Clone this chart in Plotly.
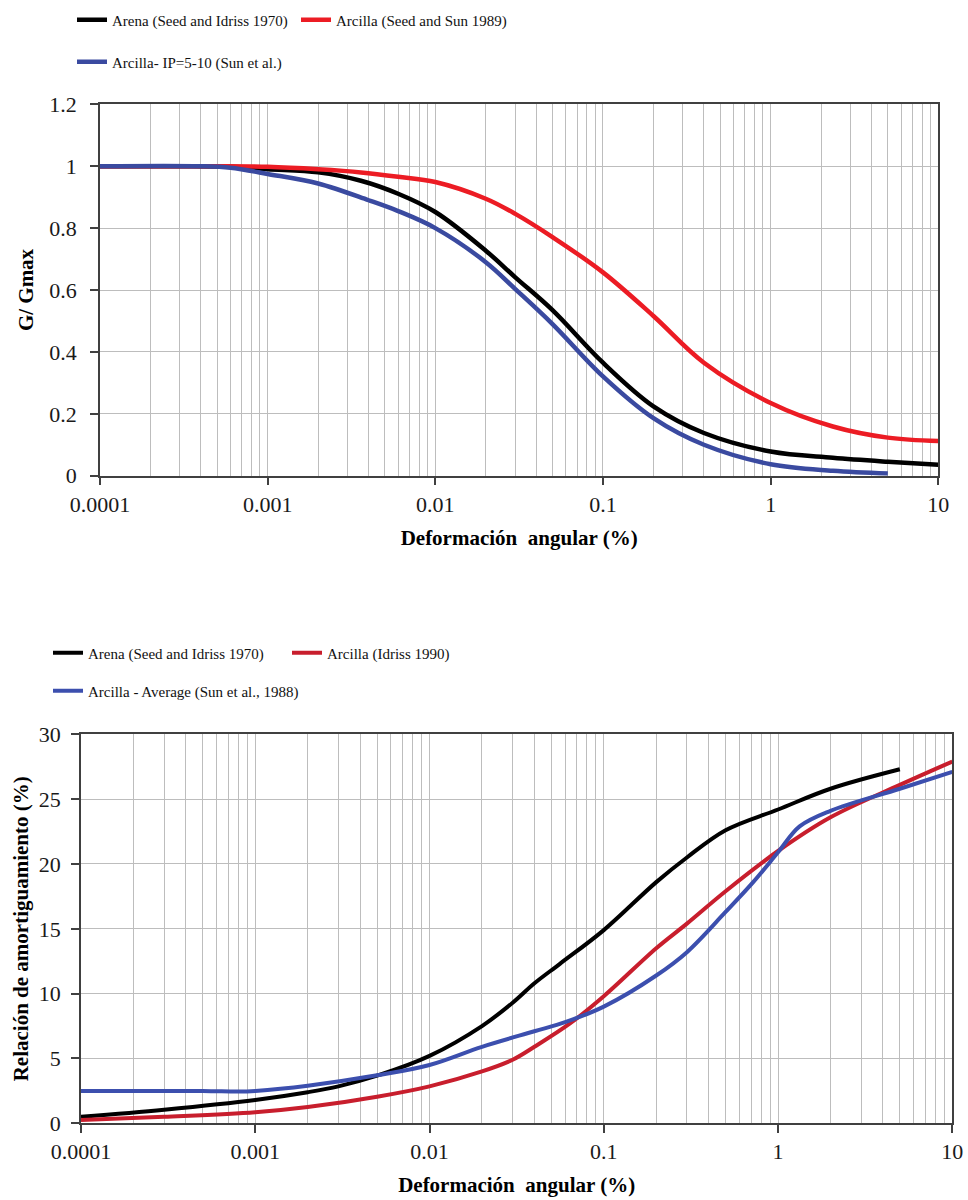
import plotly.graph_objects as go

# ---------------- Top chart: G/Gmax ----------------
strain_arena_g = [0.0001, 0.0003, 0.0006, 0.001, 0.002, 0.0036, 0.006, 0.01, 0.02, 0.03, 0.05, 0.1, 0.2, 0.4, 1, 2.35, 5, 10]
ggmax_arena = [1.0, 1.0, 0.998, 0.99, 0.98, 0.953, 0.911, 0.852, 0.727, 0.641, 0.535, 0.365, 0.224, 0.138, 0.078, 0.058, 0.045, 0.035]

strain_clay_ss = [0.0001, 0.0005, 0.001, 0.002, 0.0036, 0.006, 0.01, 0.02, 0.03, 0.05, 0.1, 0.2, 0.4, 1, 2.35, 5, 10]
ggmax_clay_ss = [1.0, 1.0, 0.998, 0.99, 0.98, 0.966, 0.949, 0.895, 0.846, 0.771, 0.657, 0.516, 0.365, 0.235, 0.159, 0.123, 0.112]

strain_clay_ip = [0.0001, 0.0004, 0.0006, 0.001, 0.002, 0.004, 0.006, 0.01, 0.02, 0.03, 0.05, 0.1, 0.2, 0.4, 1, 2.35, 5]
ggmax_clay_ip = [1.0, 1.0, 0.995, 0.975, 0.944, 0.89, 0.855, 0.80, 0.69, 0.603, 0.49, 0.321, 0.186, 0.10, 0.037, 0.016, 0.007]

# ---------------- Bottom chart: damping ratio (%) ----------------
strain_arena_d = [0.0001, 0.0003, 0.001, 0.002, 0.003, 0.005, 0.01, 0.02, 0.03, 0.04, 0.056, 0.1, 0.2, 0.3, 0.5, 1, 2, 5]
damp_arena = [0.5, 1.05, 1.8, 2.4, 2.85, 3.67, 5.2, 7.5, 9.3, 10.8, 12.3, 14.9, 18.6, 20.5, 22.6, 24.2, 25.8, 27.3]

strain_clay_id = [0.0001, 0.0003, 0.001, 0.002, 0.005, 0.01, 0.02, 0.03, 0.04, 0.064, 0.1, 0.2, 0.3, 0.5, 1, 2, 5, 10]
damp_clay_id = [0.25, 0.5, 0.85, 1.25, 2.05, 2.85, 4.0, 4.9, 5.9, 7.7, 9.8, 13.5, 15.4, 17.9, 21.0, 23.6, 26.1, 27.9]

strain_clay_avg = [0.0001, 0.0005, 0.0008, 0.001, 0.002, 0.005, 0.01, 0.02, 0.04, 0.06, 0.1, 0.2, 0.3, 0.5, 0.72, 1, 1.33, 2, 5, 10]
damp_clay_avg = [2.5, 2.5, 2.45, 2.5, 2.9, 3.7, 4.5, 5.9, 7.1, 7.8, 9.0, 11.4, 13.2, 16.3, 18.6, 20.9, 22.9, 24.1, 25.8, 27.1]

# ---------------- Labels ----------------
x_tickvals = [0.0001, 0.001, 0.01, 0.1, 1, 10]
x_ticktext = ["0.0001", "0.001", "0.01", "0.1", "1", "10"]
x_title = "<b>Deformación  angular (%)</b>"
y_title_top = "<b>G/ Gmax</b>"
y_title_bottom = "<b>Relación de amortiguamiento (%)</b>"

FONT = "Times New Roman, Liberation Serif, serif"
AXIS = "#404040"
GRID = "#bdbdbd"

# body margin is removed in the page, so the figure fills the window
W, H = 968, 1200


def px(x):
    return x / W


def py(y):
    return 1 - y / H


fig = go.Figure()


def add(x, y, name, color, xa, ya, legend, width=4.5, lw=None):
    fig.add_trace(go.Scatter(
        x=x, y=y, name=name, mode="lines", xaxis=xa, yaxis=ya, legend=legend,
        legendwidth=lw,
        line=dict(color=color, width=width, shape="spline", smoothing=1.0),
        hoverinfo="skip"))


add(strain_arena_g, ggmax_arena, "Arena (Seed and Idriss 1970)", "#000000", "x", "y", "legend", lw=179)
add(strain_clay_ss, ggmax_clay_ss, "Arcilla (Seed and Sun 1989)", "#ec1c24", "x", "y", "legend")
add(strain_clay_ip, ggmax_clay_ip, "Arcilla- IP=5-10 (Sun et al.)", "#3a4aa0", "x", "y", "legend2")

add(strain_arena_d, damp_arena, "Arena (Seed and Idriss 1970)", "#000000", "x2", "y2", "legend3", 4, lw=194)
add(strain_clay_id, damp_clay_id, "Arcilla (Idriss 1990)", "#c81e2d", "x2", "y2", "legend3", 4)
add(strain_clay_avg, damp_clay_avg, "Arcilla - Average (Sun et al., 1988)", "#3c4fae", "x2", "y2", "legend4", 4)


def xaxis(domain, anchor):
    return dict(
        type="log", range=[-4, 1], domain=domain, anchor=anchor,
        tickmode="array", tickvals=x_tickvals, ticktext=x_ticktext,
        ticks="outside", ticklen=8, tickwidth=1.5, tickcolor=AXIS,
        ticklabelstandoff=0,
        showline=True, linecolor=AXIS, linewidth=1.5, mirror=True,
        showgrid=True, gridcolor=GRID, gridwidth=1.3, zeroline=False,
        minor=dict(dtick="D1", showgrid=True, gridcolor=GRID, gridwidth=1.3, ticks=""),
        tickfont=dict(family=FONT, size=22, color="#1a1a1a"),
        title=dict(text=x_title, font=dict(family=FONT, size=21, color="#000"), standoff=14),
        automargin=False, fixedrange=True,
    )


def yaxis(domain, anchor, rng, dtick, title, standoff, lstand):
    return dict(
        range=rng, dtick=dtick, tick0=0, domain=domain, anchor=anchor,
        ticks="outside", ticklen=8, tickwidth=1.5, tickcolor=AXIS,
        ticklabelstandoff=lstand,
        showline=True, linecolor=AXIS, linewidth=1.5, mirror=True,
        showgrid=True, gridcolor=GRID, gridwidth=1.3, zeroline=False,
        tickfont=dict(family=FONT, size=22, color="#1a1a1a"),
        title=dict(text=title, font=dict(family=FONT, size=21, color="#000"), standoff=standoff),
        automargin=False, fixedrange=True,
    )


def legend(x, y):
    return dict(
        x=x, y=y, xanchor="left", yanchor="middle", orientation="h", itemwidth=30,
        font=dict(family=FONT, size=15, color="#111"),
        bgcolor="rgba(0,0,0,0)", borderwidth=0, traceorder="normal",
    )


fig.update_layout(
    width=W, height=H,
    margin=dict(l=0, r=0, t=0, b=0),
    paper_bgcolor="white", plot_bgcolor="white",
    showlegend=True,
    xaxis=xaxis([px(100), px(938.3)], "y"),
    yaxis=yaxis([py(475.7), py(104.3)], "x", [0, 1.2], 0.2, y_title_top, 10, 9),
    xaxis2=xaxis([px(81), px(952.3)], "y2"),
    yaxis2=yaxis([py(1123.3), py(734.3)], "x2", [0, 30], 5, y_title_bottom, 4, 6),
    legend=legend(px(72), py(20)),
    legend2=legend(px(72), py(62)),
    legend3=legend(px(48), py(653)),
    legend4=legend(px(48), py(691)),
)

fig.write_html(
    "out.html",
    config={"displayModeBar": False, "staticPlot": False},
    post_script="document.body.style.margin='0px';document.body.style.overflow='hidden';",
)
